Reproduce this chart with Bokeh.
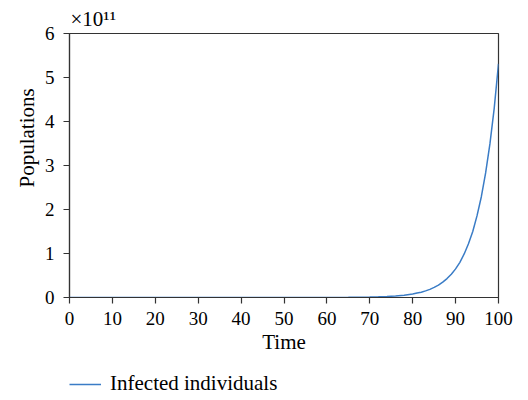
from bokeh.plotting import figure
from bokeh.layouts import column
from bokeh.models import Range1d, Legend, LegendItem, Title, FixedTicker
from bokeh.embed import file_html
from bokeh.resources import INLINE

# Infected individuals, in units of 10^11
time = [0, 10, 20, 30, 40, 50, 60, 65, 70, 72, 74, 76, 78, 80, 81, 82, 83, 84,
        85, 86, 87, 88, 89, 90, 91, 92, 93, 94, 95, 96, 97, 98, 99, 100]
infected = [0, 0, 0, 0, 0, 0.0002, 0.0012, 0.0035, 0.010, 0.015, 0.023, 0.035,
            0.053, 0.08, 0.10, 0.12, 0.15, 0.185, 0.23, 0.28, 0.35, 0.43, 0.53,
            0.65, 0.80, 0.99, 1.22, 1.50, 1.86, 2.29, 2.83, 3.49, 4.30, 5.31]
x_ticks = [0, 10, 20, 30, 40, 50, 60, 70, 80, 90, 100]
y_ticks = [0, 1, 2, 3, 4, 5, 6]
series_name = "Infected individuals"
scale_label = "×10¹¹"

FONT = "Liberation Serif"
TICK_FS = "19px"
LABEL_FS = "21px"
LINE_COLOR = "#3a7cc6"
AXIS_COLOR = "#333333"

p = figure(width=528, height=360, output_backend="svg", toolbar_location=None,
           x_range=Range1d(0, 100), y_range=Range1d(0, 6),
           min_border_left=69, min_border_right=30, min_border_top=33,
           min_border_bottom=63)
p.background_fill_color = "white"
p.border_fill_color = "white"
p.outline_line_color = AXIS_COLOR
p.outline_line_width = 1.2
p.grid.visible = False

p.line(time, infected, line_color=LINE_COLOR, line_width=1.5)

for ax in (p.xaxis[0], p.yaxis[0]):
    ax.axis_line_color = AXIS_COLOR
    ax.axis_line_width = 1.2
    ax.major_tick_line_color = AXIS_COLOR
    ax.major_tick_line_width = 1.2
    ax.major_tick_out = 6
    ax.major_tick_in = 0
    ax.minor_tick_line_color = None
    ax.major_label_text_font = FONT
    ax.major_label_text_font_size = TICK_FS
    ax.major_label_text_color = "black"
    ax.axis_label_text_font = FONT
    ax.axis_label_text_font_size = LABEL_FS
    ax.axis_label_text_font_style = "normal"
    ax.axis_label_text_color = "black"

p.xaxis[0].ticker = FixedTicker(ticks=x_ticks)
p.yaxis[0].ticker = FixedTicker(ticks=y_ticks)
p.xaxis[0].axis_label = "Time"
p.xaxis[0].major_label_standoff = 8
p.yaxis[0].major_label_standoff = 9
p.xaxis[0].axis_label_standoff = 2

p.add_layout(Title(text="Populations", align="left", offset=110, standoff=6,
                   text_font=FONT, text_font_size=LABEL_FS,
                   text_font_style="normal", text_color="black"), "left")
p.add_layout(Title(text=scale_label, align="left", offset=1, standoff=6,
                   text_font=FONT, text_font_size=LABEL_FS,
                   text_font_style="normal", text_color="black"), "above")

# legend strip below the chart: the same series is drawn again, but the
# strip's y range lies above all values, so only its legend entry shows
p2 = figure(width=528, height=40, output_backend="svg", toolbar_location=None,
            x_axis_type=None, y_axis_type=None, min_border=0,
            x_range=Range1d(0, 100), y_range=Range1d(100, 101))
p2.outline_line_color = None
p2.grid.visible = False
p2.background_fill_color = "white"
p2.border_fill_color = "white"
proxy = p2.line(time, infected, line_color=LINE_COLOR, line_width=1.5)
legend = Legend(items=[LegendItem(label=series_name, renderers=[proxy])],
                location=(0, 4), border_line_color=None,
                background_fill_alpha=0, label_text_font=FONT,
                label_text_font_size=LABEL_FS, label_text_color="black",
                glyph_width=32, label_standoff=9, padding=0, margin=0)
p2.add_layout(legend, "center")

open("out.html", "w").write(file_html(column(p, p2, spacing=0), INLINE))
